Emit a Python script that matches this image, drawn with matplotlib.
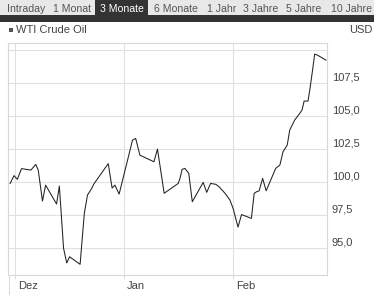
import matplotlib
matplotlib.use('Agg')
import matplotlib.pyplot as plt
from matplotlib.patches import Rectangle
from matplotlib.lines import Line2D
from matplotlib.transforms import ScaledTranslation

plt.rcParams['font.family'] = ['Liberation Sans', 'DejaVu Sans']

# WTI price, days counted from 1 Dec
days = [-1.4, -0.3, 0.65, 1.85, 3.3, 4.5, 5.9, 6.6, 7.8, 8.7, 11.8, 12.3, 12.6,
        13.8, 14.7, 15.5, 18.5, 19.7, 20.6, 21.8, 22.4, 26.5, 27.6, 28.4, 29.6,
        33.4, 34.3, 35.5, 39.5, 40.5, 42.4, 46.4, 46.9, 47.5, 48.3, 49.4, 50.4,
        53.5, 54.5, 55.6, 57.1, 58.0, 59.7, 61.1, 62.0, 63.4, 64.4, 67.2, 68.0,
        68.7, 69.4, 70.4, 71.4, 72.9, 74.1, 75.3, 76.2, 77.4, 78.1, 79.5, 80.8,
        81.6, 82.2, 83.3, 83.8, 84.6, 85.2, 86.0, 88.4]
prices = [99.85, 100.45, 100.17, 100.98, 100.92, 100.87, 101.30, 100.87, 98.52,
          99.73, 98.30, 99.13, 99.66, 94.94, 93.83, 94.30, 93.73, 97.59, 98.98,
          99.48, 99.81, 101.36, 99.51, 99.73, 99.05, 103.14, 103.27, 102.00,
          101.50, 102.46, 99.11, 99.86, 100.24, 100.92, 101.00, 100.62, 98.47,
          99.94, 99.18, 99.86, 99.79, 99.61, 99.11, 98.60, 97.97, 96.55, 97.50,
          97.21, 99.11, 99.23, 99.30, 100.24, 99.30, 100.24, 101.00, 101.25,
          102.26, 102.77, 103.90, 104.66, 105.11, 105.42, 106.10, 106.10, 106.93,
          108.45, 109.66, 109.58, 109.20]

month_ticks = [0, 31, 62]
month_labels = ['Dez', 'Jan', 'Feb']
price_ticks = [95.0, 97.5, 100.0, 102.5, 105.0, 107.5, 110.0]
price_labels = ['95,0', '97,5', '100,0', '102,5', '105,0', '107,5', '']

tab_labels = ['Intraday', '1 Monat', '3 Monate', '6 Monate', '1 Jahr', '3 Jahre', '5 Jahre', '10 Jahre']
tab_x = [7, 53, 100, 154, 207, 243, 286, 331]
selected = '3 Monate'

W, H = 378, 295
def fx(px):
    return px / W
def fy(py):
    return 1 - py / H

fig = plt.figure(figsize=(3.78, 2.95), dpi=100)
fig.patch.set_facecolor('white')

# tab bar
fig.add_artist(Rectangle((0, fy(15)), fx(374), 15 / H, transform=fig.transFigure, color='#e8e8e8', lw=0))
fig.add_artist(Rectangle((fx(95), fy(15)), fx(53), 15 / H, transform=fig.transFigure, color='#333333', lw=0))
fig.add_artist(Rectangle((0, fy(22)), fx(374), 7 / H, transform=fig.transFigure, color='#333333', lw=0))
for lab, x in zip(tab_labels, tab_x):
    fig.text(fx(x), fy(8.5), lab, fontsize=7.6, va='center', ha='left',
             color='white' if lab == selected else '#555555')

# legend line
fig.add_artist(Rectangle((fx(9), fy(32)), fx(3.5), 3.5 / H, transform=fig.transFigure, color='#555555', lw=0))
fig.text(fx(15.5), fy(30), 'WTI Crude Oil', fontsize=8, va='center', ha='left', color='#444444')
fig.text(fx(372), fy(30), 'USD', fontsize=8, va='center', ha='right', color='#444444')

ax = fig.add_axes([fx(8), fy(275), fx(319), 232 / H])
ax.plot(days, prices, color='#222222', lw=0.75)
ax.set_xlim(-2, 88.7)
ax.set_ylim(92.92, 110.5)

ax.set_xticks(month_ticks)
ax.set_xticklabels(month_labels, ha='left')
ax.tick_params(axis='x', length=3, color='#dddddd', pad=1.5, labelsize=8, labelcolor='#444444')
for lbl in ax.get_xticklabels():
    lbl.set_transform(lbl.get_transform() + ScaledTranslation(0.03, 0, fig.dpi_scale_trans))

ax.yaxis.tick_right()
ax.set_yticks(price_ticks)
ax.set_yticklabels(price_labels)
ax.tick_params(axis='y', length=0, pad=3.6, labelsize=8, labelcolor='#444444')
for lbl in ax.get_yticklabels():
    lbl.set_verticalalignment('bottom')

ax.grid(color='#e0e0e0', lw=0.8)
ax.set_axisbelow(True)
for s in ax.spines.values():
    s.set_color('#d8d8d8')
    s.set_linewidth(0.8)

fig.add_artist(Line2D([fx(8.5), fx(8.5)], [fy(275), 0], transform=fig.transFigure, color='#dddddd', lw=0.8))

fig.savefig('out.png', dpi=100)
